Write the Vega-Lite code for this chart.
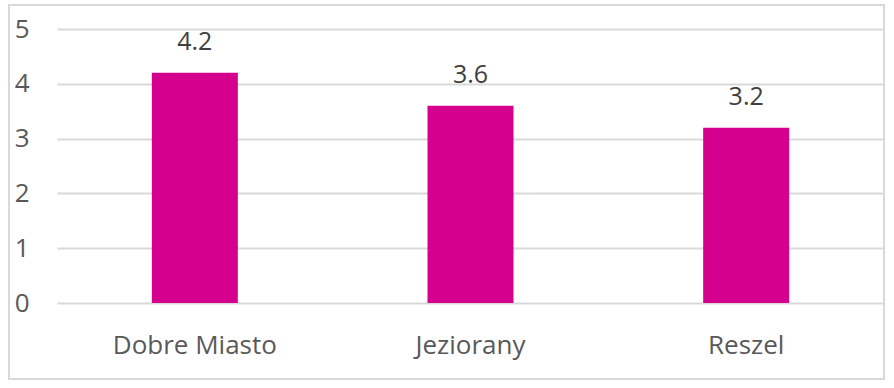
{
  "$schema": "https://vega.github.io/schema/vega-lite/v6.json",
  "autosize": "none",
  "width": 875,
  "height": 374,
  "padding": {"left": 9, "top": 5, "right": 10, "bottom": 9},
  "background": "white",
  "config": {
    "view": {"stroke": "#d9d9d9", "strokeWidth": 2},
    "font": "Open Sans"
  },
  "data": {
    "values": [
      {"miasto": "Dobre Miasto", "wartosc": 4.2},
      {"miasto": "Jeziorany", "wartosc": 3.6},
      {"miasto": "Reszel", "wartosc": 3.2}
    ]
  },
  "encoding": {
    "x": {
      "field": "miasto",
      "type": "nominal",
      "sort": null,
      "scale": {"range": [48, 875], "paddingInner": 0, "paddingOuter": 0},
      "axis": {
        "title": null,
        "orient": "bottom",
        "offset": -75,
        "domain": false,
        "ticks": false,
        "tickSize": 0,
        "labelAngle": 0,
        "labelBaseline": "alphabetic",
        "labelPadding": 49,
        "labelFontSize": 26,
        "labelColor": "#595959",
        "labelFont": "Open Sans"
      }
    },
    "y": {
      "field": "wartosc",
      "type": "quantitative",
      "scale": {"domain": [0, 5], "range": [298, 24], "nice": false, "zero": true},
      "axis": {
        "title": null,
        "values": [0, 1, 2, 3, 4, 5],
        "offset": -48,
        "domain": false,
        "ticks": false,
        "tickSize": 0,
        "labelPadding": 28,
        "labelFontSize": 26,
        "labelColor": "#595959",
        "labelFont": "Open Sans",
        "gridColor": "#d9d9d9",
        "gridWidth": 2
      }
    }
  },
  "layer": [
    {
      "mark": {"type": "bar", "color": "#d6008f", "width": 86}
    },
    {
      "mark": {
        "type": "text",
        "baseline": "alphabetic",
        "dy": -23,
        "fontSize": 25,
        "color": "#404040",
        "font": "Open Sans"
      },
      "encoding": {
        "text": {"field": "wartosc", "type": "quantitative", "format": ".1f"}
      }
    }
  ]
}
